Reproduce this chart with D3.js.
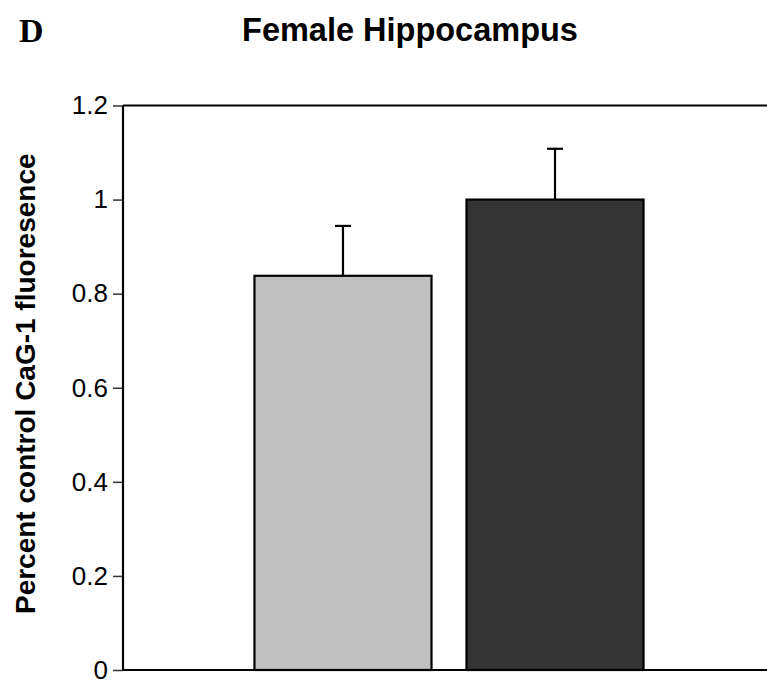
<!DOCTYPE html>
<html>
<head>
<meta charset="utf-8">
<script src="https://cdn.jsdelivr.net/npm/d3@7"></script>
<style>
  html, body { margin: 0; padding: 0; background: #fff; }
  svg { display: block; }
</style>
</head>
<body>
<svg id="chart" width="767" height="683"></svg>
<script>
// Group means and standard errors (fraction of control)
const groups = ["treated", "control"];
const means = [0.838, 1.0];
const errors = [0.106, 0.108];
const fills = ["#c0c0c0", "#333333"];
const yTicks = [0, 0.2, 0.4, 0.6, 0.8, 1, 1.2];
const yTickLabels = ["0", "0.2", "0.4", "0.6", "0.8", "1", "1.2"];

const svg = d3.select("#chart");
const plotLeft = 123, plotRight = 775, plotTop = 105.5, plotBottom = 670;

const x = d3.scaleBand()
  .domain(groups)
  .range([plotLeft, plotRight])
  .paddingInner(0.165)
  .paddingOuter(0.62);

const y = d3.scaleLinear().domain([0, 1.2]).range([plotBottom, plotTop]);

// Panel letter and title
svg.append("text")
  .attr("x", 19).attr("y", 42)
  .attr("font-family", "Liberation Serif, Times New Roman, serif")
  .attr("font-weight", "bold")
  .attr("font-size", 34)
  .text("D");

svg.append("text")
  .attr("x", 410).attr("y", 41)
  .attr("text-anchor", "middle")
  .attr("font-family", "Liberation Sans, Arial, sans-serif")
  .attr("font-weight", "bold")
  .attr("font-size", 32.5)
  .text("Female Hippocampus");

// Y axis label
svg.append("text")
  .attr("transform", `translate(35, ${(plotTop + plotBottom) / 2 - 4}) rotate(-90)`)
  .attr("text-anchor", "middle")
  .attr("font-family", "Liberation Sans, Arial, sans-serif")
  .attr("font-weight", "bold")
  .attr("font-size", 28)
  .text("Percent control CaG-1 fluoresence");

// Y axis
const yAxis = d3.axisLeft(y)
  .tickValues(yTicks)
  .tickFormat((d, i) => yTickLabels[i])
  .tickSize(10)
  .tickPadding(5);

const gy = svg.append("g")
  .attr("transform", `translate(${plotLeft},0)`)
  .call(yAxis);
gy.select(".domain").remove();
gy.selectAll(".tick line").attr("stroke", "#333").attr("stroke-width", 1.5);
gy.selectAll(".tick text")
  .attr("font-family", "Liberation Sans, Arial, sans-serif")
  .attr("font-size", 26)
  .attr("fill", "#000");

// Bars
svg.append("g").selectAll("rect")
  .data(groups)
  .join("rect")
  .attr("x", d => x(d))
  .attr("width", x.bandwidth())
  .attr("y", (d, i) => y(means[i]))
  .attr("height", (d, i) => y(0) - y(means[i]))
  .attr("fill", (d, i) => fills[i])
  .attr("stroke", "#000")
  .attr("stroke-width", 2.2);

// Upper error bars
const eb = svg.append("g").attr("stroke", "#000").attr("stroke-width", 2.2);
groups.forEach((g, i) => {
  const cx = x(g) + x.bandwidth() / 2;
  eb.append("line")
    .attr("x1", cx).attr("x2", cx)
    .attr("y1", y(means[i])).attr("y2", y(means[i] + errors[i]));
  eb.append("line")
    .attr("x1", cx - 8).attr("x2", cx + 8)
    .attr("y1", y(means[i] + errors[i])).attr("y2", y(means[i] + errors[i]));
});

// Frame: left axis, top and bottom lines
const frame = svg.append("g").attr("stroke", "#000").attr("stroke-width", 2.2);
frame.append("line").attr("x1", plotLeft).attr("x2", plotLeft).attr("y1", y(1.2)).attr("y2", y(0));
frame.append("line").attr("x1", plotLeft).attr("x2", 767).attr("y1", y(1.2)).attr("y2", y(1.2));
frame.append("line").attr("x1", plotLeft).attr("x2", 767).attr("y1", y(0)).attr("y2", y(0));
</script>
</body>
</html>
